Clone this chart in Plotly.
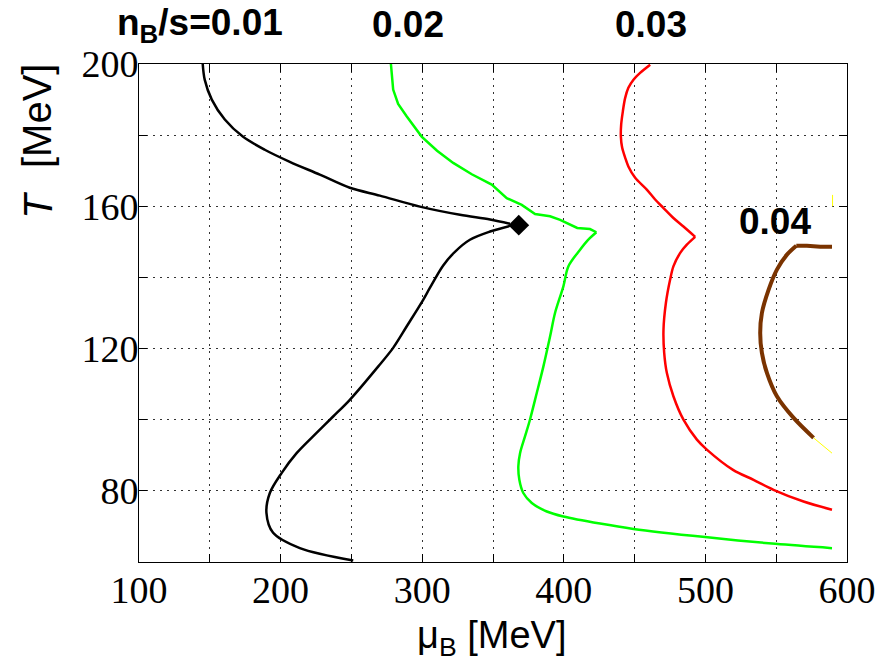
import plotly.graph_objects as go

# ---------------- data ----------------
# n_B/s = 0.01 (black), two branches meeting at the critical point
black_upper_mu = [145.0, 146.4, 151.4, 160.6, 173.3, 188.8, 206.5, 227.7, 248.9, 270.1, 298.4, 326.7, 347.9, 362.0]
black_upper_T = [200.0, 195.6, 190.0, 184.4, 179.6, 175.9, 172.5, 168.9, 165.2, 163.0, 159.9, 157.6, 156.3, 155.1]
black_lower_mu = [362.0, 347.9, 333.7, 323.1, 314.7, 305.5, 300.7, 289.0, 279.5, 269.0, 248.9, 237.1, 225.4,
                  211.3, 200.7, 192.4, 190.0, 194.7, 213.6, 251.3]
black_lower_T = [154.5, 152.9, 150.6, 147.2, 143.3, 137.1, 133.7, 126.2, 120.2, 115.0, 105.6, 100.9, 96.3,
                 90.6, 85.0, 79.4, 73.8, 68.2, 63.9, 60.4]

# n_B/s = 0.02 (green)
green_upper_mu = [277.9, 279.5, 283.0, 289.0, 299.6, 310.5, 321.9, 335.0, 349.1, 359.7, 370.3, 379.7, 390.3,
                  397.4, 409.5, 418.5, 423.0]
green_upper_T = [200.0, 192.8, 188.8, 185.3, 179.6, 175.6, 172.2, 169.0, 166.1, 162.3, 160.4, 157.8, 157.2,
                 156.2, 153.9, 153.6, 152.7]
green_lower_mu = [423.0, 417.0, 411.5, 403.2, 399.7, 393.8, 390.3, 385.6, 380.9, 376.1, 372.6, 369.1, 367.9,
                  368.6, 371.4, 377.4, 388.0, 399.7, 425.6, 449.2, 499.8, 549.3, 589.4]
green_lower_T = [152.7, 150.5, 147.8, 143.1, 137.5, 130.0, 123.4, 115.0, 107.5, 100.0, 95.3, 90.6, 86.9,
                 83.1, 79.4, 76.6, 74.2, 72.8, 70.8, 69.3, 67.0, 65.1, 63.9]

# n_B/s = 0.03 (red)
red_upper_mu = [461.0, 453.9, 449.2, 445.6, 443.3, 441.7, 440.5, 440.3, 441.2, 443.3, 445.6, 450.4, 458.6,
                464.5, 470.4, 477.4, 484.5, 492.8]
red_upper_T = [199.8, 197.5, 195.6, 193.3, 190.4, 186.7, 182.9, 179.6, 176.5, 173.7, 171.2, 168.0, 164.7,
               161.9, 159.5, 156.7, 154.3, 151.4]
red_lower_mu = [492.8, 486.9, 482.2, 477.4, 475.1, 472.1, 470.4, 470.9, 472.8, 477.4, 484.5, 494.0, 501.0,
                519.5, 534.0, 548.1, 569.3, 589.4]
red_lower_T = [151.4, 149.2, 146.9, 143.1, 139.4, 132.8, 125.3, 118.8, 113.1, 106.6, 100.0, 94.4, 91.6,
               85.9, 83.1, 80.3, 77.0, 74.7]

# n_B/s = 0.04 (brown) and its thin yellow continuation
brown_top_mu = [589.4, 581.1, 571.7, 564.2]
brown_top_T = [148.6, 148.6, 148.9, 148.9]
brown_arc_mu = [564.2, 557.6, 550.5, 544.6, 539.9, 538.7, 539.9, 543.5, 550.5, 562.3, 576.4]
brown_arc_T = [148.9, 146.4, 142.2, 136.5, 130.0, 124.4, 118.8, 113.1, 106.6, 100.5, 94.9]
yellow_mu = [576.4, 589.4]
yellow_T = [94.9, 90.6]
yellow_tick_mu = [589.8, 589.8]
yellow_tick_T = [160.0, 163.2]

# critical point
cp_mu = [368.2]
cp_T = [154.7]

# axis ticks
x_tickvals = [100, 150, 200, 250, 300, 350, 400, 450, 500, 550, 600]
x_ticktext = ["100", "", "200", "", "300", "", "400", "", "500", "", "600"]
y_tickvals = [60, 80, 100, 120, 140, 160, 180, 200]
y_ticktext = ["", "80", "", "120", "", "160", "", "200"]

# contour labels
label_texts = ["n<sub>B</sub>/s=0.01", "0.02", "0.03"]
label_mu = [143.0, 290.3, 461.7]

# ---------------- figure ----------------
fig = go.Figure()

def add_line(xs, ys, color, width, shape="spline"):
    fig.add_trace(go.Scatter(x=xs, y=ys, mode="lines",
                             line=dict(color=color, width=width, shape=shape, smoothing=0.9),
                             showlegend=False, hoverinfo="skip"))

add_line(black_upper_mu, black_upper_T, "#000000", 2.5)
add_line(black_lower_mu, black_lower_T, "#000000", 2.5)
add_line(green_upper_mu, green_upper_T, "#00ff00", 2.5, "linear")
add_line(green_lower_mu, green_lower_T, "#00ff00", 2.5)
add_line(red_upper_mu, red_upper_T, "#ff0000", 2.5)
add_line(red_lower_mu, red_lower_T, "#ff0000", 2.5)
add_line(brown_top_mu, brown_top_T, "#7a3300", 4, "linear")
add_line(brown_arc_mu, brown_arc_T, "#7a3300", 4)
add_line(yellow_mu, yellow_T, "#ffff00", 1, "linear")
add_line(yellow_tick_mu, yellow_tick_T, "#ffff00", 1, "linear")

fig.add_trace(go.Scatter(x=cp_mu, y=cp_T, mode="markers",
                         marker=dict(symbol="diamond", size=16, color="#000000"),
                         showlegend=False, hoverinfo="skip"))

label_font = dict(family="Liberation Sans, Arial, sans-serif", size=37, color="#000000")
for t, m in zip(label_texts, label_mu):
    fig.add_annotation(x=m, y=1.079, xref="x", yref="paper", text="<b>" + t + "</b>",
                       showarrow=False, font=label_font, xanchor="center", yanchor="middle")
fig.add_annotation(x=549.5, y=155.7, xref="x", yref="y", text="<b>0.04</b>",
                   showarrow=False, font=label_font, xanchor="center", yanchor="middle")

title_font = dict(family="Liberation Sans, Arial, sans-serif", size=38, color="#000000")
fig.add_annotation(x=0.498, y=-0.152, xref="paper", yref="paper",
                   text="\u03bc<sub>B</sub> [MeV]", showarrow=False, font=title_font,
                   xanchor="center", yanchor="middle")
ytitle_font = dict(family="Liberation Sans, Arial, sans-serif", size=40, color="#000000")
fig.add_annotation(x=-0.143, y=0.895, xref="paper", yref="paper",
                   text="[MeV]", showarrow=False, font=ytitle_font,
                   textangle=-90, xanchor="center", yanchor="middle")
fig.add_annotation(x=-0.143, y=0.717, xref="paper", yref="paper",
                   text="<i>T</i>", showarrow=False, font=ytitle_font,
                   textangle=-90, xanchor="center", yanchor="middle")

axis_common = dict(
    showline=True, linecolor="#000000", linewidth=1, mirror="allticks",
    ticks="inside", ticklen=8, tickcolor="#000000", tickwidth=1,
    showgrid=True, gridcolor="#333333", gridwidth=1, griddash="2px,5px",
    zeroline=False, automargin=False,
    tickfont=dict(family="Liberation Serif, Times New Roman, serif", size=38, color="#000000"),
    tickmode="array",
)

fig.update_xaxes(range=[100, 600], tickvals=x_tickvals, ticktext=x_ticktext, ticklabelstandoff=-6, **axis_common)
fig.update_yaxes(range=[60, 200], tickvals=y_tickvals, ticktext=y_ticktext, ticklabelstandoff=-8, **axis_common)

fig.update_layout(
    width=884, height=659,
    margin=dict(l=139, r=37, t=64, b=97),
    paper_bgcolor="#ffffff", plot_bgcolor="#ffffff",
    showlegend=False,
)

fig.write_html("out.html", config={"displayModeBar": False},
               post_script="document.body.style.margin='0px';")
